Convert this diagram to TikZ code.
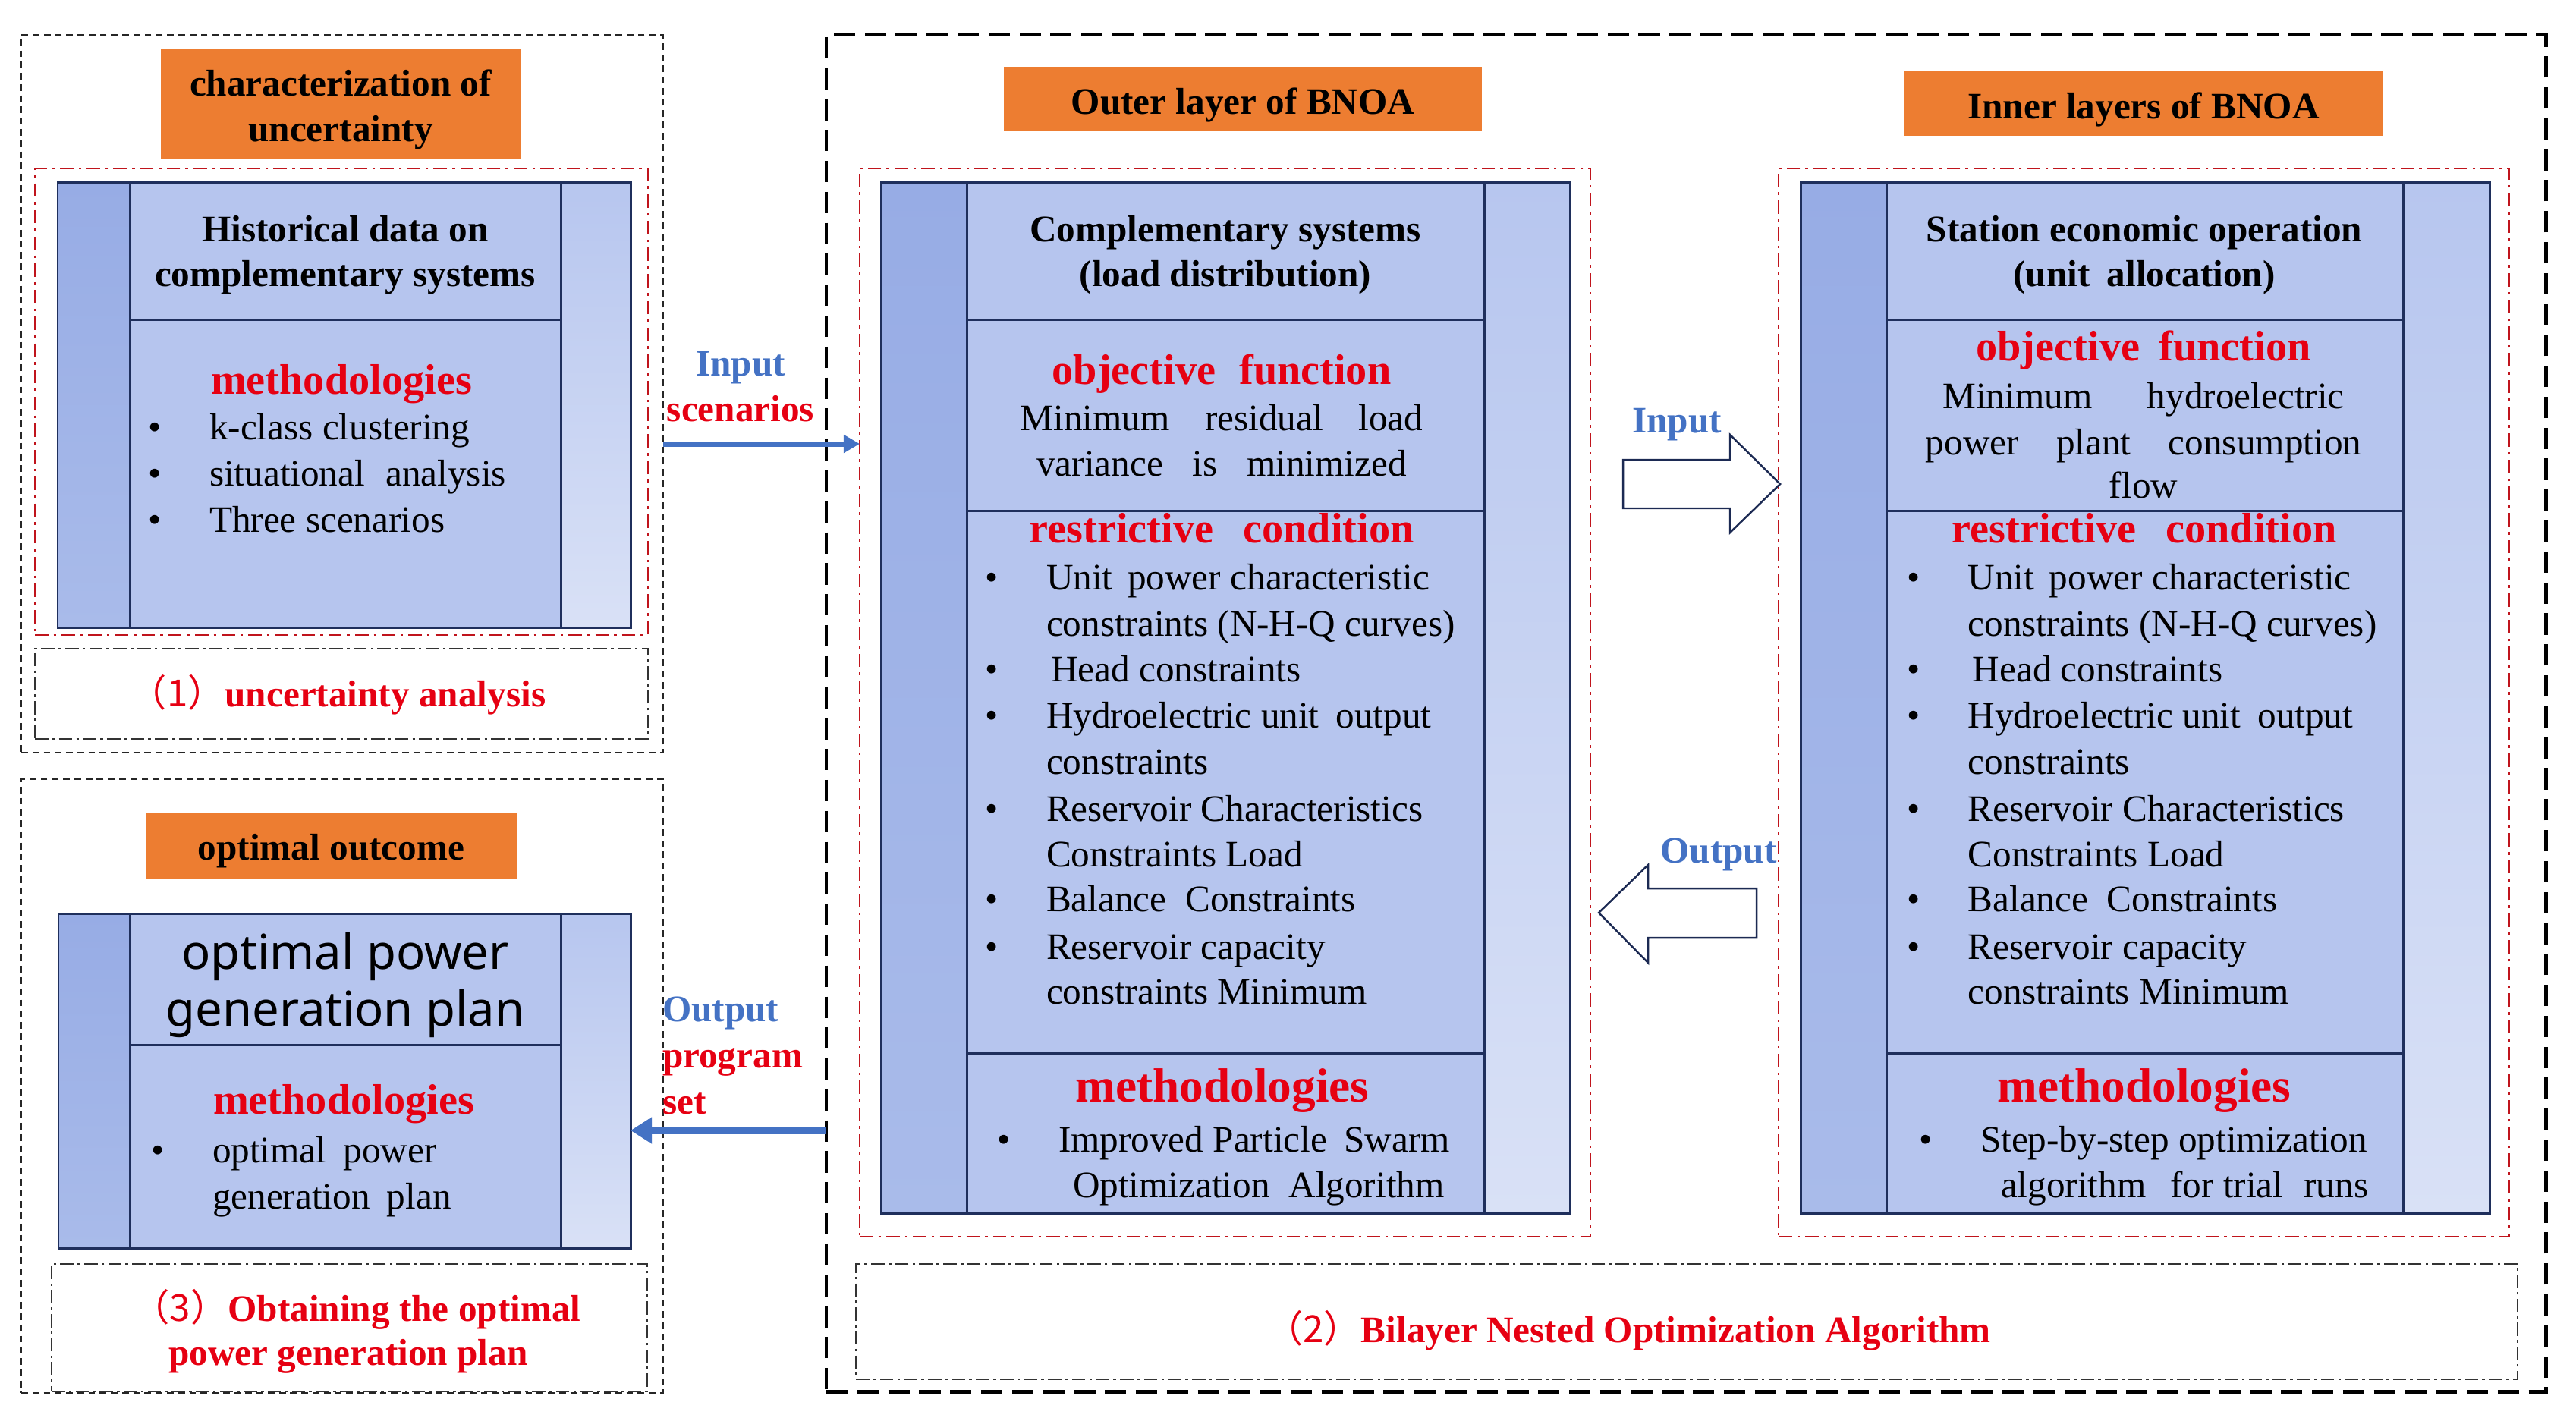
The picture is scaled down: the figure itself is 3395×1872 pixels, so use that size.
\documentclass[tikz,border=0pt]{standalone}
\usepackage{fontspec}
\setmainfont{Liberation Serif}
\newfontfamily\sansfam{Noto Sans}
\newfontfamily\cjkfam{Noto Sans CJK SC}
\usetikzlibrary{fit,arrows.meta}
\definecolor{orng}{HTML}{ED7D31}
\definecolor{redtx}{HTML}{E60012}
\definecolor{redline}{HTML}{C0141C}
\definecolor{bluetx}{HTML}{4472C4}
\definecolor{navyline}{HTML}{1F2F5C}
\definecolor{colLt}{HTML}{97ACE5}
\definecolor{colLb}{HTML}{A9BBEA}
\definecolor{colM}{HTML}{B6C5EE}
\definecolor{colRt}{HTML}{B7C6EF}
\definecolor{colRb}{HTML}{D9E1F6}
\newcommand\fsb{\fontsize{14}{17}\selectfont}
\newcommand\fsm{\fontsize{16}{19}\selectfont}
\newcommand\fsl{\fontsize{18}{21}\selectfont}
\tikzset{
  grpbox/.style={draw=black!85, line width=0.6pt, dash pattern=on 2.5pt off 1.7pt, inner sep=0pt, outer sep=0pt},
  bigbox/.style={draw=black, line width=1.4pt, dash pattern=on 8pt off 3.6pt, inner sep=0pt, outer sep=0pt},
  redbox/.style={draw=redline, line width=0.7pt, dash pattern=on 5pt off 2pt on 1pt off 2pt, inner sep=0pt, outer sep=0pt},
  labbox/.style={draw=black!80, line width=0.5pt, dash pattern=on 5pt off 1.5pt on 1pt off 1.5pt, inner sep=0pt, outer sep=0pt},
  orangebox/.style={fill=orng, inner sep=0pt, outer sep=0pt},
  plainfit/.style={inner sep=0pt, outer sep=0pt},
  navy/.style={draw=navyline, line width=0.85pt},
  tx/.style={inner sep=0pt, outer sep=0pt, font=\fsb, yshift=-0.075cm},
  hd/.style={tx, anchor=mid, font=\fsb\bfseries},
  redh/.style={tx, anchor=mid, text=redtx, font=\fsm\bfseries},
  redhl/.style={tx, anchor=mid, text=redtx, font=\fsl\bfseries},
  bluelab/.style={tx, text=bluetx, font=\fsb\bfseries},
  redlab/.style={tx, text=redtx, font=\fsb\bfseries},
  barrowA/.style={draw=bluetx, line width=2pt, -{Triangle[length=6pt,width=6.5pt]}},
  barrowB/.style={draw=bluetx, line width=2.8pt, -{Triangle[length=8pt,width=9.5pt]}},
  hollow/.style={draw=navyline!90!black, line width=0.7pt, fill=white, line join=miter},
}
\newcommand\blk[6]{%
  \shade[top color=colLt, bottom color=colLb] (#1,#5) rectangle (#2,#6);
  \fill[colM] (#2,#5) rectangle (#3,#6);
  \shade[top color=colRt, bottom color=colRb] (#3,#5) rectangle (#4,#6);
  \draw[navy] (#1,#5) rectangle (#4,#6) (#2,#5) -- (#2,#6) (#3,#5) -- (#3,#6);}
\newcommand\bitem[5]{%
  \node[tx, anchor=mid] (#1b) at (#2,#4) {\textbullet};
  \node[tx, anchor=mid west] (#1) at (#3,#4) {#5};}
\newcommand\tline[4]{\node[tx, anchor=mid west] (#1) at (#2,#3) {#4};}
\newcommand\restrictlist[1]{%
  \bitem{#1u}{1307}{1379}{762}{Unit\hspace{0.15em} power characteristic}
  \tline{#1uc}{1379}{823}{constraints (N-H-Q curves)}
  \bitem{#1h}{1307}{1385}{883}{Head constraints}
  \bitem{#1y}{1307}{1379}{944}{Hydroelectric unit\hspace{0.2em} output}
  \tline{#1yc}{1379}{1005}{constraints}
  \bitem{#1r}{1307}{1379}{1067}{Reservoir Characteristics}
  \tline{#1rc}{1379}{1127}{Constraints Load}
  \bitem{#1bl}{1307}{1379}{1186}{Balance\hspace{0.25em} Constraints}
  \bitem{#1c}{1307}{1379}{1249}{Reservoir capacity}
  \tline{#1cc}{1379}{1308}{constraints Minimum}}
\begin{document}
\begin{tikzpicture}[x=0.01cm,y=-0.01cm]
\useasboundingbox (0,0) rectangle (3395,1872);
% group frames
\node[grpbox, fit={(28,46) (874,992)}] (grp1) {};
\node[grpbox, fit={(28,1027) (874,1836)}] (grp3) {};
\node[bigbox, fit={(1089,46) (3355,1834)}] (grp2) {};
% red dash-dot frames
\node[redbox, fit={(46,222) (854,837)}] (red1) {};
\node[redbox, fit={(1133,222) (2096,1630)}] (red2a) {};
\node[redbox, fit={(2344,222) (3307,1630)}] (red2b) {};
% label frames
\node[labbox, fit={(46,855) (854,974)}] (lab1) {};
\node[labbox, fit={(68,1666) (853,1834)}] (lab3) {};
\node[labbox, fit={(1128,1666) (3318,1818)}] (lab2) {};
% orange headers
\node[orangebox, fit={(212,64) (686,210)}] (or1) {};
\node[hd, align=center, anchor=center] (or1t) at (or1.center) {characterization of\\uncertainty};
\node[orangebox, fit={(192,1071) (681,1158)}] (or3) {};
\node[hd, anchor=center] (or3t) at (or3.center) {optimal outcome};
\node[orangebox, fit={(1323,88) (1953,173)}] (or2a) {};
\node[hd, anchor=center] (or2at) at (or2a.center) {Outer layer of BNOA};
\node[orangebox, fit={(2509,94) (3141,179)}] (or2b) {};
\node[hd, anchor=center] (or2bt) at (or2b.center) {Inner layers of BNOA};
% blocks
\blk{76}{171}{739}{831}{240}{827}
\draw[navy] (171,421) -- (739,421);
\node[plainfit, fit={(76,240) (831,827)}] (blk1) {};
\blk{77}{171}{739}{831}{1204}{1645}
\draw[navy] (171,1377) -- (739,1377);
\node[plainfit, fit={(77,1204) (831,1645)}] (blk3) {};
\blk{1161}{1274}{1956}{2069}{240}{1599}
\draw[navy] (1274,421) -- (1956,421) (1274,673) -- (1956,673) (1274,1388) -- (1956,1388);
\node[plainfit, fit={(1161,240) (2069,1599)}] (blk2a) {};
\blk{2373}{2486}{3167}{3281}{240}{1599}
\draw[navy] (2486,421) -- (3167,421) (2486,673) -- (3167,673) (2486,1388) -- (3167,1388);
\node[plainfit, fit={(2373,240) (3281,1599)}] (blk2b) {};
% block 1 text
\node[hd] (h1a) at (455,303) {Historical data on};
\node[hd] (h1b) at (455,362) {complementary systems};
\node[redh] (m1) at (450,504) {methodologies};
\bitem{k1}{204}{276}{564}{k-class clustering}
\bitem{k2}{204}{276}{625}{situational\hspace{0.3em} analysis}
\bitem{k3}{204}{276}{686}{Three scenarios}
% block 3 text
\node[tx, anchor=mid, font=\sansfam\fsl] (h3a) at (455,1262) {optimal power};
\node[tx, anchor=mid, font=\sansfam\fsl] (h3b) at (455,1337) {generation plan};
\node[redh] (m3) at (453,1453) {methodologies};
\bitem{q1}{208}{280}{1517}{optimal\hspace{0.2em} power}
\tline{q1c}{280}{1578}{generation\hspace{0.2em} plan}
% block 2a text
\node[hd] (h2a1) at (1615,303) {Complementary systems};
\node[hd] (h2a2) at (1615,362) {(load distribution)};
\node[redh] (o2a) at (1610,491) {objective\hspace{0.3em} function};
\node[tx, anchor=mid] (o2a1) at (1610,552) {\makebox[5.3cm][s]{Minimum residual load}};
\node[tx, anchor=mid] (o2a2) at (1610,612) {\makebox[4.87cm][s]{variance is minimized}};
\node[redh] (r2a) at (1610,700) {restrictive\hspace{0.45em} condition};
\restrictlist{a}
\node[redhl] (m2a) at (1611,1437) {methodologies};
\bitem{pa}{1323}{1395}{1503}{Improved Particle\hspace{0.2em} Swarm}
\tline{pac}{1414}{1563}{Optimization\hspace{0.25em} Algorithm}
% block 2b text
\node[hd] (h2b1) at (2826,303) {Station economic operation};
\node[hd] (h2b2) at (2826,362) {(unit\hspace{0.2em} allocation)};
\node[redh] (o2b) at (2825,460) {objective\hspace{0.2em} function};
\node[tx, anchor=mid] (o2b1) at (2825,523) {\makebox[5.29cm][s]{Minimum hydroelectric}};
\node[tx, anchor=mid] (o2b2) at (2825,584) {\makebox[5.74cm][s]{power plant consumption}};
\node[tx, anchor=mid] (o2b3) at (2825,641) {flow};
\node[redh] (r2b) at (2826,700) {restrictive\hspace{0.45em} condition};
\begin{scope}[xshift=12.14cm]
\restrictlist{b}
\end{scope}
\node[redhl] (m2b) at (2826,1437) {methodologies};
\bitem{sb}{2538}{2610}{1503}{Step-by-step optimization}
\tline{sbc}{2637}{1563}{algorithm\hspace{0.4em} for trial\hspace{0.3em} runs}
% bottom labels
\node[redlab, anchor=mid] (l1) at (445,916) {{\mdseries\cjkfam （1）}uncertainty analysis};
\node[redlab, anchor=mid] (l3a) at (470,1726) {{\mdseries\cjkfam （3）}Obtaining the optimal};
\node[redlab, anchor=mid] (l3b) at (459,1784) {power generation plan};
\node[redlab, anchor=mid] (l2) at (2146,1754) {{\mdseries\cjkfam （2）}Bilayer Nested Optimization Algorithm};
% connectors
\node[bluelab, anchor=mid] (inl) at (976,480) {Input};
\node[redlab, anchor=mid] (inl2) at (976,540) {scenarios};
\draw[barrowA] (grp1.east |- 0,585) -- (red2a.west |- 0,585);
\node[bluelab, anchor=mid west] (outl) at (873,1331) {Output};
\node[redlab, anchor=mid west] (outl2) at (873,1392) {program};
\node[redlab, anchor=mid west] (outl3) at (873,1453) {set};
\draw[barrowB] (grp2.west |- 0,1490) -- (blk3.east |- 0,1490);
% hollow arrows
\node[bluelab, anchor=mid] (hin) at (2210,555) {Input};
\draw[hollow] (2139,606) -- (2280,606) -- (2280,573) -- (2346,638) -- (2280,702) -- (2280,670) -- (2139,670) -- cycle;
\node[bluelab, anchor=mid] (hout) at (2265,1122) {Output};
\draw[hollow] (2315,1171) -- (2172,1171) -- (2172,1140) -- (2107,1203) -- (2172,1269) -- (2172,1236) -- (2315,1236) -- cycle;
\end{tikzpicture}
\end{document}
